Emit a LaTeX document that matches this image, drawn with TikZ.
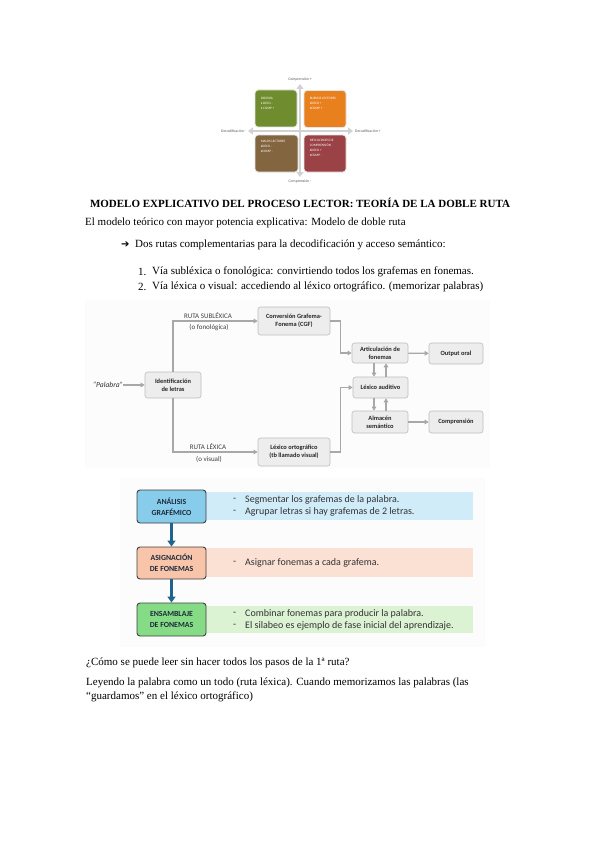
\documentclass[tikz,border=0pt]{standalone}
\usepackage{fontspec}
\setmainfont{Liberation Serif}
\newfontfamily\calfont{Carlito}
\newfontfamily\djfont{DejaVu Sans}
\usetikzlibrary{arrows.meta}
\definecolor{qgreen}{HTML}{6F8C2E}
\definecolor{qorange}{HTML}{E9801E}
\definecolor{qbrown}{HTML}{83653F}
\definecolor{qred}{HTML}{9A4245}
\definecolor{fgray}{HTML}{EDEDED}
\definecolor{fline}{HTML}{BDBDBD}
\definecolor{cgray}{HTML}{A8A8A8}
\definecolor{bblue}{HTML}{88CCEB}
\definecolor{lblue}{HTML}{D0ECF9}
\definecolor{bsal}{HTML}{F8C5AA}
\definecolor{lsal}{HTML}{FBE0D4}
\definecolor{bgreen}{HTML}{86DC86}
\definecolor{lgreen}{HTML}{DBF2D3}
\definecolor{darrow}{HTML}{1F6391}
\definecolor{faint}{HTML}{FCFCFC}
\definecolor{navytxt}{HTML}{1E2A3A}
\tikzset{
  body/.style={anchor=west, inner sep=0, font=\fontsize{11}{13}\selectfont},
  qbox/.style={draw=gray!20, line width=0.9, rounded corners=3, inner sep=0},
  qtxt/.style={anchor=north west, inner sep=0, align=left, text=white, font=\calfont\fontsize{3.4}{4.8}\selectfont},
  axlbl/.style={inner sep=0, text=gray!70!black, font=\calfont\fontsize{3.8}{4.5}\selectfont},
  axis/.style={draw=gray!35, line width=1.6, {Triangle[width=7,length=5]}-{Triangle[width=7,length=5]}},
  fbox/.style={draw=fline, fill=fgray, rounded corners=2.5, line width=0.6, inner sep=1, align=center, text=black!85, font=\calfont\bfseries\fontsize{6.4}{7.6}\selectfont},
  conn/.style={draw=cgray, line width=1.3, -{Triangle[width=4.5,length=4]}},
  rlbl/.style={inner sep=0, text=black!75, font=\calfont\fontsize{7}{8}\selectfont},
  sbox/.style={draw=black!75, line width=0.9, rounded corners=3, inner sep=0, align=center, minimum width=69, text=navytxt, font=\calfont\bfseries\fontsize{7.8}{11}\selectfont},
  btxt/.style={anchor=west, inner sep=0, text=black!80, font=\calfont\fontsize{10}{12}\selectfont},
  darr/.style={draw=darrow, line width=2.6, -{Triangle[width=8,length=6]}}
}
\begin{document}
\begin{tikzpicture}[x=1pt,y=-1pt]
\useasboundingbox (0,0) rectangle (599,848);
\fill[white] (0,0) rectangle (599,848);

% ---------- quadrant figure ----------
\draw[axis] (248,131) -- (353,131);
\draw[axis] (300,84) -- (300,177);
\node[qbox, fill=qgreen, minimum width=42, minimum height=37] (qg) at (276,108.5) {};
\node[qbox, fill=qorange, minimum width=42, minimum height=37] (qo) at (325,109) {};
\node[qbox, fill=qbrown, minimum width=43, minimum height=37] (qb) at (276.5,153.5) {};
\node[qbox, fill=qred, minimum width=42, minimum height=37] (qr) at (325,153.5) {};
\node[qtxt] (tg) at ([shift={(6,8)}]qg.north west) {DISLEXIA\\• DECO -\\• COMP +};
\node[qtxt] (to) at ([shift={(6,7)}]qo.north west) {BUENOS LECTORES\\•DECO +\\•COMP +};
\node[qtxt] (tb) at ([shift={(6,6)}]qb.north west) {MALOS LECTORES\\•DECO -\\•COMP -};
\node[qtxt] (tr) at ([shift={(6,5)}]qr.north west) {DIFICULTADES DE\\COMPRENSIÓN\\•DECO +\\•COMP -};
\node[axlbl] (c1) at (300,79) {Comprensión +};
\node[axlbl] (c2) at (300,181) {Comprensión -};
\node[axlbl, anchor=east] (d1) at (246,131) {Decodificación -};
\node[axlbl, anchor=west] (d2) at (355,131) {Decodificación +};

% ---------- text ----------
\node[inner sep=0, font=\bfseries\fontsize{11}{13}\selectfont] (title) at (300,203) {MODELO EXPLICATIVO DEL PROCESO LECTOR: TEORÍA DE LA DOBLE RUTA};
\node[body] (t1) at (85,223) {El modelo teórico con mayor potencia explicativa: Modelo de doble ruta};
\node[body] (arr) at (121,245) {\djfont\fontsize{10}{11}\selectfont ➔};
\node[body] (t2) at (135,245) {Dos rutas complementarias para la decodificación y acceso semántico:};
\node[body] (n1) at (138,272) {1.};
\node[body] (i1) at (152,272) {Vía subléxica o fonológica: convirtiendo todos los grafemas en fonemas.};
\node[body] (n2) at (138,287) {2.};
\node[body] (i2) at (152,287) {Vía léxica o visual: accediendo al léxico ortográfico. (memorizar palabras)};

% ---------- flowchart ----------
\fill[faint] (85,300) rectangle (490,468);
\node[inner sep=0, text=black!80, font=\calfont\itshape\fontsize{7.6}{9}\selectfont] (pal) at (108,385) {“Palabra”};
\node[fbox, minimum width=56, minimum height=26] (idl) at (173,385) {Identificación\\de letras};
\node[fbox, minimum width=72, minimum height=28] (cgf) at (294,321) {Conversión Grafema-\\Fonema (CGF)};
\node[fbox, minimum width=72, minimum height=28] (lo) at (294,452) {Léxico ortográfico\\(tb llamado visual)};
\node[fbox, minimum width=56, minimum height=20] (art) at (380,353) {Articulación de\\fonemas};
\node[fbox, minimum width=54, minimum height=21] (out) at (456,353.5) {Output oral};
\node[fbox, minimum width=55, minimum height=21] (la) at (380.5,387.5) {Léxico auditivo};
\node[fbox, minimum width=56, minimum height=22] (alm) at (380,422) {Almacén\\semántico};
\node[fbox, minimum width=54, minimum height=22] (comp) at (456,422) {Comprensión};

\draw[conn] (pal) -- (idl);
\draw[conn] (idl.north) |- (cgf.west);
\draw[conn] (idl.south) |- (lo.west);
\draw[conn] (cgf.east) -- ++(10,0) |- (art.west);
\draw[conn] (lo.east) -- ++(10,0) |- (la.west);
\draw[conn] (art) -- (out);
\draw[conn] (alm) -- (comp);
\draw[conn] ([xshift=-6]art.south) -- ([xshift=-6.5]la.north);
\draw[conn] ([xshift=5.5]la.north) -- ([xshift=6]art.south);
\draw[conn] ([xshift=-6.5]la.south) -- ([xshift=-6]alm.north);
\draw[conn] ([xshift=6]alm.north) -- ([xshift=5.5]la.south);

\node[rlbl] (r1) at (208,316) {RUTA SUBLÉXICA};
\node[rlbl] (r1b) at (209,328) {(o fonológica)};
\node[rlbl] (r2) at (208,447) {RUTA LÉXICA};
\node[rlbl] (r2b) at (209,459) {(o visual)};

% ---------- steps figure ----------
\fill[faint] (120,478) rectangle (485,647);
\fill[lblue] (206,492) rectangle (473,520);
\fill[lsal] (206,548) rectangle (473,577);
\fill[lgreen] (206,606) rectangle (473,633);
\node[sbox, fill=bblue, minimum height=33] (s1) at (171.5,506.5) {ANÁLISIS\\GRAFÉMICO};
\node[sbox, fill=bsal, minimum height=32] (s2) at (171.5,563) {ASIGNACIÓN\\DE FONEMAS};
\node[sbox, fill=bgreen, minimum height=33] (s3) at (171.5,619.5) {ENSAMBLAJE\\DE FONEMAS};
\draw[darr] (s1) -- (s2);
\draw[darr] (s2) -- (s3);
\node[btxt] (b1d) at (233,500) {-};
\node[btxt] (b1) at (245,500) {Segmentar los grafemas de la palabra.};
\node[btxt] (b2d) at (233,512) {-};
\node[btxt] (b2) at (245,512) {Agrupar letras si hay grafemas de 2 letras.};
\node[btxt] (b3d) at (233,563) {-};
\node[btxt] (b3) at (245,563) {Asignar fonemas a cada grafema.};
\node[btxt] (b4d) at (233,614) {-};
\node[btxt] (b4) at (245,614) {Combinar fonemas para producir la palabra.};
\node[btxt] (b5d) at (233,626) {-};
\node[btxt] (b5) at (245,626) {El silabeo es ejemplo de fase inicial del aprendizaje.};

% ---------- bottom text ----------
\node[body] (q1) at (86,663) {¿Cómo se puede leer sin hacer todos los pasos de la 1ª ruta?};
\node[body] (q2) at (86,683) {Leyendo la palabra como un todo (ruta léxica). Cuando memorizamos las palabras (las};
\node[body] (q3) at (86,697) {“guardamos” en el léxico ortográfico)};
\end{tikzpicture}
\end{document}
